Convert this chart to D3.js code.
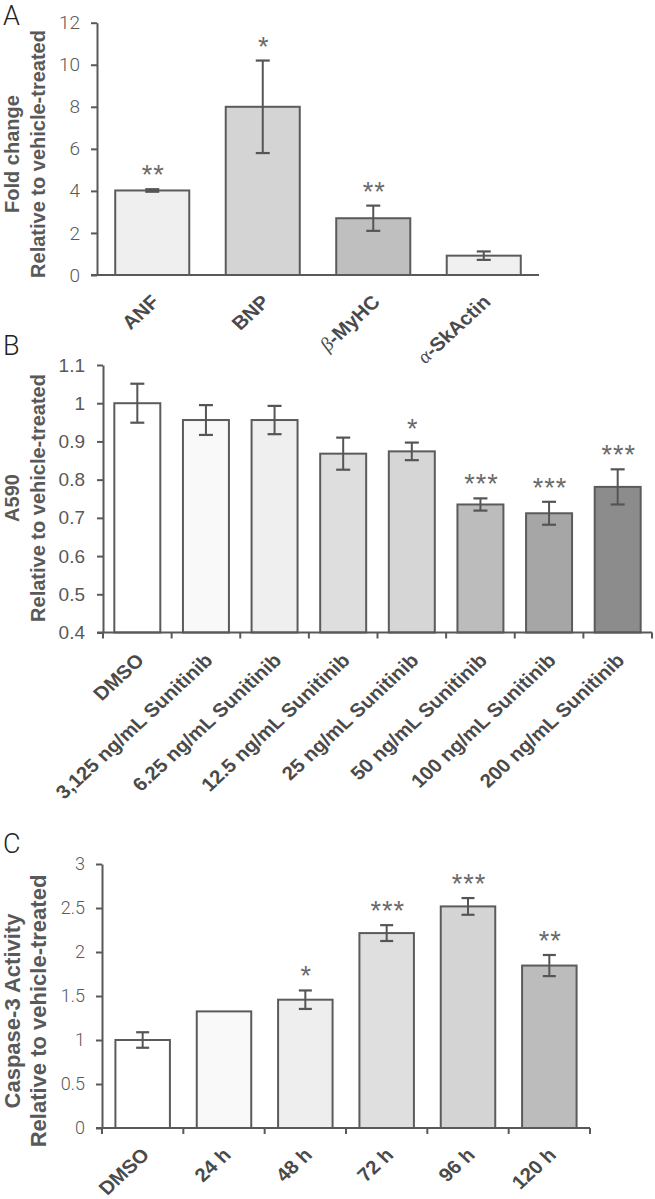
<!DOCTYPE html>
<html><head><meta charset="utf-8">
<script src="https://cdn.jsdelivr.net/npm/d3@7"></script>
<style>
html,body{margin:0;padding:0;background:#fff;}
svg{display:block;}
</style>
</head><body>
<svg id="chart" width="655" height="1199"></svg>
<script>
// ---------- Panel A data ----------
const aCategories = ["ANF", "BNP", "β-MyHC", "α-SkActin"];
const aValues = [4.02, 8.0, 2.7, 0.92];
const aErrors = [0.06, 2.2, 0.6, 0.2];
const aStars = ["**", "*", "**", ""];
const aColors = ["#efefef", "#d4d4d4", "#bfbfbf", "#f0f0f0"];
const aTicks = [0, 2, 4, 6, 8, 10, 12];
const aTitle = ["Fold change", "Relative to vehicle-treated"];

// ---------- Panel B data ----------
const bCategories = ["DMSO", "3,125 ng/mL Sunitinib", "6.25 ng/mL Sunitinib", "12.5 ng/mL Sunitinib",
  "25 ng/mL Sunitinib", "50 ng/mL Sunitinib", "100 ng/mL Sunitinib", "200 ng/mL Sunitinib"];
const bValues = [1.0, 0.956, 0.956, 0.868, 0.874, 0.735, 0.712, 0.781];
const bErrors = [0.051, 0.039, 0.037, 0.042, 0.023, 0.016, 0.03, 0.046];
const bStars = ["", "", "", "", "*", "***", "***", "***"];
const bColors = ["#ffffff", "#f9f9f9", "#efefef", "#dedede", "#d6d6d6", "#bcbcbc", "#a6a6a6", "#8c8c8c"];
const bTicks = [0.4, 0.5, 0.6, 0.7, 0.8, 0.9, 1.0, 1.1];
const bTitle = ["A590", "Relative to vehicle-treated"];

// ---------- Panel C data ----------
const cCategories = ["DMSO", "24 h", "48 h", "72 h", "96 h", "120 h"];
const cValues = [1.0, 1.325, 1.458, 2.215, 2.518, 1.846];
const cErrors = [0.088, 0, 0.105, 0.09, 0.095, 0.12];
const cStars = ["", "", "*", "***", "***", "**"];
const cColors = ["#ffffff", "#f9f9f9", "#eeeeee", "#dfdfdf", "#d4d4d4", "#bcbcbc"];
const cTicks = [0, 0.5, 1, 1.5, 2, 2.5, 3];
const cTitle = ["Caspase-3 Activity", "Relative to vehicle-treated"];

const INK = "#595959";
const LIGHT = "Roboto, 'Open Sans', Lato, 'Liberation Sans', sans-serif";
const SANS = "'Liberation Sans', Arial, Helvetica, sans-serif";

const svg = d3.select("#chart");

function fmt(d) { return String(+d.toFixed(1)); }

function drawPanel(opt) {
  const g = svg.append("g");
  const x = d3.scaleBand().domain(opt.cats).range([opt.left, opt.right])
    .paddingInner(0.33).paddingOuter(0.165);
  const y = d3.scaleLinear().domain(opt.domain).range([opt.bottom, opt.top]);
  const base = opt.domain[0];
  const data = opt.cats.map((c, i) => ({c, v: opt.vals[i], e: opt.errs[i], s: opt.stars[i], col: opt.colors[i]}));

  g.append("text").attr("x", opt.letterX).attr("y", opt.letterY)
    .attr("font-family", LIGHT).attr("font-weight", 300).attr("font-size", 27)
    .attr("fill", "#222").text(opt.letter);

  opt.title.forEach((t, i) => {
    g.append("text")
      .attr("transform", `translate(${opt.titleX[i]},${opt.titleY}) rotate(-90)`)
      .attr("text-anchor", "middle")
      .attr("font-family", SANS).attr("font-weight", "bold")
      .attr("font-size", opt.titleSize).attr("fill", INK).text(t);
  });

  g.selectAll("rect.bar").data(data).join("rect").attr("class", "bar")
    .attr("x", d => x(d.c)).attr("y", d => y(d.v))
    .attr("width", x.bandwidth()).attr("height", d => y(base) - y(d.v))
    .attr("fill", d => d.col).attr("stroke", "#5b5b5b").attr("stroke-width", 2);

  const eb = data.filter(d => d.e > 0);
  const cx = d => x(d.c) + x.bandwidth() / 2;
  const cw = opt.cap / 2;
  g.selectAll("line.ev").data(eb).join("line")
    .attr("x1", cx).attr("x2", cx).attr("y1", d => y(d.v + d.e)).attr("y2", d => y(d.v - d.e))
    .attr("stroke", "#555").attr("stroke-width", 2);
  g.selectAll("line.et").data(eb).join("line")
    .attr("x1", d => cx(d) - cw).attr("x2", d => cx(d) + cw)
    .attr("y1", d => y(d.v + d.e)).attr("y2", d => y(d.v + d.e))
    .attr("stroke", "#555").attr("stroke-width", 2.2);
  g.selectAll("line.eb").data(eb).join("line")
    .attr("x1", d => cx(d) - cw).attr("x2", d => cx(d) + cw)
    .attr("y1", d => y(d.v - d.e)).attr("y2", d => y(d.v - d.e))
    .attr("stroke", "#555").attr("stroke-width", 2.2);

  g.selectAll("text.star").data(data.filter(d => d.s)).join("text")
    .attr("x", d => cx(d) + 1).attr("y", d => y(d.v + d.e) - 5)
    .attr("text-anchor", "middle").attr("font-family", SANS)
    .attr("font-size", 27).attr("letter-spacing", 1).attr("fill", "#6a6a6a").text(d => d.s);

  const ya = g.append("g").attr("transform", `translate(${opt.left},0)`)
    .call(d3.axisLeft(y).tickValues(opt.ticks).tickSize(6).tickSizeOuter(0)
      .tickPadding(opt.tickPad).tickFormat(fmt));
  ya.select(".domain").attr("stroke", INK).attr("stroke-width", 2);
  ya.selectAll(".tick line").attr("stroke", INK).attr("stroke-width", 2);
  ya.selectAll(".tick text").attr("font-family", opt.tickFamily).attr("font-weight", opt.tickWeight)
    .attr("font-size", opt.tickSize).attr("fill", INK);

  g.append("line").attr("x1", opt.left - 6).attr("x2", opt.right)
    .attr("y1", y(base)).attr("y2", y(base)).attr("stroke", INK).attr("stroke-width", 2.2);
  if (opt.xTicks) {
    const half = (x.step() - x.bandwidth()) / 2;
    const bounds = opt.cats.map(c => x(c) - half).concat([x(opt.cats[opt.cats.length - 1]) + x.bandwidth() + half]);
    g.selectAll("line.xt").data(bounds).join("line")
      .attr("x1", d => d).attr("x2", d => d).attr("y1", y(base)).attr("y2", y(base) + 6)
      .attr("stroke", INK).attr("stroke-width", 2);
  }

  data.forEach(d => {
    const t = g.append("text")
      .attr("transform", `translate(${cx(d) + opt.labDx},${y(base) + opt.labDy}) scale(1.08,1) rotate(-45)`)
      .attr("text-anchor", "end").attr("font-family", SANS).attr("font-weight", "bold")
      .attr("font-size", opt.labSize).attr("fill", "#4a4a4a");
    const first = d.c.charAt(0);
    if (/[α-ωΑ-Ω]/.test(first)) {
      t.append("tspan").attr("font-family", "'Liberation Serif', 'DejaVu Serif', serif")
        .attr("font-weight", "normal").attr("font-style", "italic").text(first);
      t.append("tspan").text(d.c.slice(1));
    } else {
      t.text(d.c);
    }
  });
}

drawPanel({
  letter: "A", letterX: 3, letterY: 25,
  cats: aCategories, vals: aValues, errs: aErrors, stars: aStars, colors: aColors, ticks: aTicks,
  title: aTitle, titleX: [19, 45], titleY: 154, titleSize: 20,
  left: 97, right: 539, bottom: 275, top: 22.7, domain: [0, 12],
  tickFamily: LIGHT, tickWeight: 300, tickSize: 19, tickPad: 11,
  cap: 14, xTicks: false, labDx: 8, labDy: 28, labSize: 19
});

drawPanel({
  letter: "B", letterX: 3, letterY: 355,
  cats: bCategories, vals: bValues, errs: bErrors, stars: bStars, colors: bColors, ticks: bTicks,
  title: bTitle, titleX: [19, 45], titleY: 498, titleSize: 20,
  left: 103, right: 652, bottom: 632.5, top: 365, domain: [0.4, 1.1],
  tickFamily: SANS, tickWeight: "normal", tickSize: 19, tickPad: 12,
  cap: 14, xTicks: true, labDx: 8, labDy: 29, labSize: 19
});

drawPanel({
  letter: "C", letterX: 3, letterY: 853,
  cats: cCategories, vals: cValues, errs: cErrors, stars: cStars, colors: cColors, ticks: cTicks,
  title: cTitle, titleX: [20, 46], titleY: 1011, titleSize: 22,
  left: 102, right: 590, bottom: 1128, top: 864, domain: [0, 3],
  tickFamily: LIGHT, tickWeight: 300, tickSize: 18, tickPad: 11,
  cap: 13, xTicks: true, labDx: 8, labDy: 28, labSize: 19
});
</script>
</body></html>
